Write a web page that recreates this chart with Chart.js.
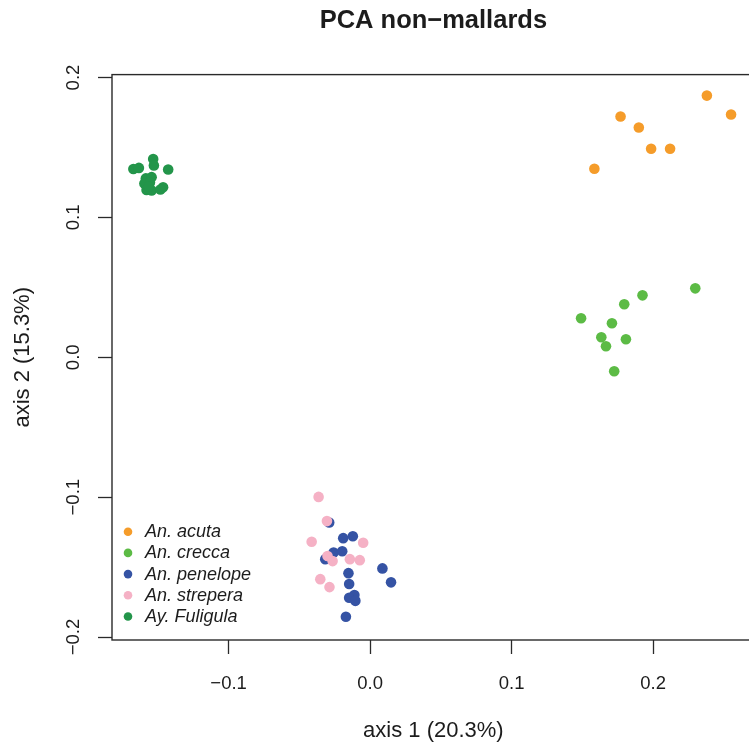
<!DOCTYPE html>
<html>
<head>
<meta charset="utf-8">
<script src="https://cdn.jsdelivr.net/npm/chart.js@4.4.0/dist/chart.umd.min.js"></script>
<style>
  html, body { margin: 0; padding: 0; background: #fff; overflow: hidden; }
  #wrap { width: 749px; height: 745px; overflow: hidden; }
  canvas { display: block; }
</style>
</head>
<body>
<div id="wrap"><canvas id="pca" width="760" height="745"></canvas></div>
<script>
const speciesNames = ['An. acuta', 'An. crecca', 'An. penelope', 'An. strepera', 'Ay. Fuligula'];
const speciesColors = ['#F59C2A', '#5CBB45', '#3553A4', '#F5B1C5', '#23954A'];

const acutaX = [0.2380, 0.2551, 0.1770, 0.1899, 0.1986, 0.2120, 0.1585];
const acutaY = [0.1871, 0.1736, 0.1721, 0.1643, 0.1491, 0.1491, 0.1348];

const creccaX = [0.2298, 0.1925, 0.1796, 0.1491, 0.1709, 0.1634, 0.1808, 0.1667, 0.1725];
const creccaY = [0.0493, 0.0443, 0.0379, 0.0279, 0.0243, 0.0143, 0.0129, 0.0079, -0.0100];

const penelopeX = [-0.0289, -0.0190, -0.0122, -0.0258, -0.0197, -0.0317, -0.0153, 0.0087, -0.0148, 0.0148, -0.0111, -0.0148, -0.0104, -0.0171];
const penelopeY = [-0.1181, -0.1293, -0.1279, -0.1395, -0.1386, -0.1443, -0.1543, -0.1509, -0.1621, -0.1609, -0.1700, -0.1719, -0.1741, -0.1855];

const streperaX = [-0.0364, -0.0305, -0.0413, -0.0049, -0.0301, -0.0265, -0.0143, -0.0073, -0.0352, -0.0287];
const streperaY = [-0.0998, -0.1171, -0.1319, -0.1326, -0.1421, -0.1457, -0.1443, -0.1450, -0.1586, -0.1643];

const fuligulaX = [-0.1673, -0.1634, -0.1533, -0.1528, -0.1427, -0.1585, -0.1544, -0.1595, -0.1556, -0.1580, -0.1544, -0.1563, -0.1463, -0.1482];
const fuligulaY = [0.1346, 0.1354, 0.1418, 0.1371, 0.1343, 0.1279, 0.1288, 0.1243, 0.1250, 0.1196, 0.1193, 0.1221, 0.1216, 0.1200];

const xTicks = [-0.1, 0, 0.1, 0.2];
const xTickLabels = ['\u22120.1', '0.0', '0.1', '0.2'];
const yTicks = [-0.2, -0.1, 0, 0.1, 0.2];
const yTickLabels = ['\u22120.2', '\u22120.1', '0.0', '0.1', '0.2'];

const seriesX = [acutaX, creccaX, penelopeX, streperaX, fuligulaX];
const seriesY = [acutaY, creccaY, penelopeY, streperaY, fuligulaY];

const fontFamily = '"Liberation Sans", Arial, Helvetica, sans-serif';
const ink = '#1c1c1c';

// R-style box around the plot region
const boxPlugin = {
  id: 'plotBox',
  beforeDatasetsDraw(chart) {
    const a = chart.chartArea;
    const ctx = chart.ctx;
    ctx.save();
    ctx.strokeStyle = '#2a2a2a';
    ctx.lineWidth = 1.4;
    ctx.strokeRect(a.left, a.top, a.right - a.left, a.bottom - a.top);
    ctx.restore();
  }
};

// legend drawn inside the bottom-left of the plot, no frame
const insetLegend = {
  id: 'insetLegend',
  afterDraw(chart) {
    const a = chart.chartArea;
    const ctx = chart.ctx;
    const step = 21.2;
    const n = chart.data.datasets.length;
    const y0 = a.bottom - 23.5 - step * (n - 1);
    ctx.save();
    ctx.font = 'italic 18px ' + fontFamily;
    ctx.textBaseline = 'middle';
    ctx.textAlign = 'left';
    chart.data.datasets.forEach((ds, i) => {
      const y = y0 + i * step;
      ctx.fillStyle = ds.backgroundColor;
      ctx.beginPath();
      ctx.arc(a.left + 16, y, 4.3, 0, Math.PI * 2);
      ctx.fill();
      ctx.fillStyle = ink;
      ctx.fillText(ds.label, a.left + 33, y + 0.5);
    });
    ctx.restore();
  }
};

const datasets = speciesNames.map((name, i) => ({
  label: name,
  data: seriesX[i].map((x, j) => ({ x: x, y: seriesY[i][j] })),
  backgroundColor: speciesColors[i],
  pointRadius: 5.3,
  pointBorderWidth: 0,
  order: speciesNames.length - i
}));

new Chart(document.getElementById('pca'), {
  type: 'scatter',
  data: { datasets: datasets },
  options: {
    responsive: false,
    devicePixelRatio: 1,
    animation: false,
    events: [],
    layout: { padding: { left: 0, right: 3, top: 0, bottom: 0 } },
    plugins: {
      legend: { display: false },
      tooltip: { enabled: false },
      title: {
        display: true,
        text: 'PCA non\u2212mallards',
        fullSize: false,
        color: ink,
        font: { family: fontFamily, size: 25.5, weight: 'bold' },
        padding: { top: 6, bottom: 38 }
      }
    },
    scales: {
      x: {
        type: 'linear',
        min: -0.1824,
        max: 0.2718,
        afterFit(scale) { scale.height = 105; },
        afterBuildTicks(scale) { scale.ticks = xTicks.map(v => ({ value: v })); },
        grid: { drawOnChartArea: false, drawTicks: true, tickLength: 14, tickColor: '#2a2a2a', tickWidth: 1.3 },
        border: { display: false },
        ticks: {
          autoSkip: false,
          maxRotation: 0,
          minRotation: 0,
          padding: 19,
          color: ink,
          font: { family: fontFamily, size: 18.5 },
          callback: (v, i) => xTickLabels[i]
        },
        title: {
          display: true,
          text: 'axis 1 (20.3%)',
          color: ink,
          font: { family: fontFamily, size: 22 },
          padding: { top: 0, bottom: 1 }
        }
      },
      y: {
        type: 'linear',
        min: -0.2021,
        max: 0.2021,
        afterFit(scale) { scale.width = 112; },
        afterBuildTicks(scale) { scale.ticks = yTicks.map(v => ({ value: v })); },
        grid: { drawOnChartArea: false, drawTicks: true, tickLength: 14, tickColor: '#2a2a2a', tickWidth: 1.3 },
        border: { display: false },
        ticks: {
          autoSkip: false,
          minRotation: 90,
          maxRotation: 90,
          crossAlign: 'center',
          padding: 6,
          color: ink,
          font: { family: fontFamily, size: 18.5 },
          callback: (v, i) => yTickLabels[i]
        },
        title: {
          display: true,
          text: 'axis 2 (15.3%)',
          color: ink,
          font: { family: fontFamily, size: 22 },
          padding: { top: 10, bottom: 0 }
        }
      }
    }
  },
  plugins: [boxPlugin, insetLegend]
});
</script>
</body>
</html>
